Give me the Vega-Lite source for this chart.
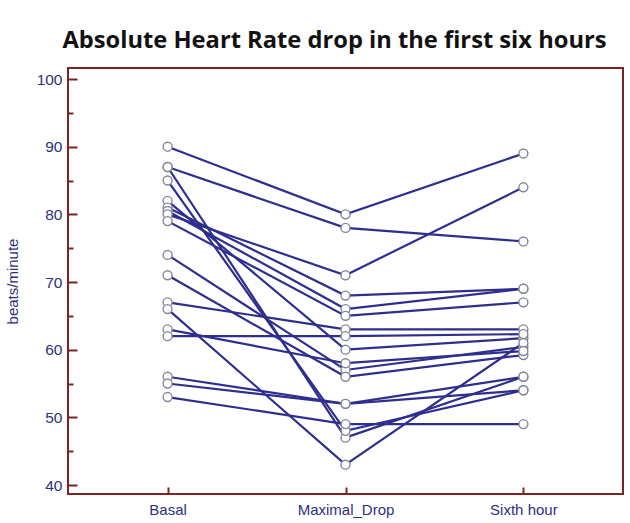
{
  "$schema": "https://vega.github.io/schema/vega-lite/v6.json",
  "autosize": {"type": "none"},
  "width": 555,
  "height": 426,
  "padding": {"left": 68, "top": 68, "right": 7, "bottom": 29},
  "background": "white",
  "title": {
    "text": "Absolute Heart Rate drop in the first six hours",
    "font": "Open Sans",
    "fontWeight": "bold",
    "fontSize": 23.7,
    "color": "#111111",
    "anchor": "middle",
    "dx": -11,
    "offset": 15
  },
  "config": {
    "view": {"stroke": "#7a2522", "strokeWidth": 2},
    "axis": {
      "labelFont": "Liberation Sans",
      "titleFont": "Liberation Sans",
      "labelColor": "#2f2f80",
      "titleColor": "#2f2f80",
      "tickColor": "#7a2522",
      "tickWidth": 2,
      "domain": false,
      "grid": false
    }
  },
  "data": {
    "values": [
      {"id": 1, "time": "Basal", "hr": 90}, {"id": 1, "time": "Maximal_Drop", "hr": 80}, {"id": 1, "time": "Sixth hour", "hr": 89},
      {"id": 2, "time": "Basal", "hr": 87}, {"id": 2, "time": "Maximal_Drop", "hr": 78}, {"id": 2, "time": "Sixth hour", "hr": 76},
      {"id": 3, "time": "Basal", "hr": 87}, {"id": 3, "time": "Maximal_Drop", "hr": 47}, {"id": 3, "time": "Sixth hour", "hr": 56},
      {"id": 4, "time": "Basal", "hr": 85}, {"id": 4, "time": "Maximal_Drop", "hr": 48}, {"id": 4, "time": "Sixth hour", "hr": 54},
      {"id": 5, "time": "Basal", "hr": 82}, {"id": 5, "time": "Maximal_Drop", "hr": 60}, {"id": 5, "time": "Sixth hour", "hr": 61.7},
      {"id": 6, "time": "Basal", "hr": 81}, {"id": 6, "time": "Maximal_Drop", "hr": 68}, {"id": 6, "time": "Sixth hour", "hr": 69},
      {"id": 7, "time": "Basal", "hr": 80.5}, {"id": 7, "time": "Maximal_Drop", "hr": 66}, {"id": 7, "time": "Sixth hour", "hr": 69},
      {"id": 8, "time": "Basal", "hr": 80}, {"id": 8, "time": "Maximal_Drop", "hr": 71}, {"id": 8, "time": "Sixth hour", "hr": 84},
      {"id": 9, "time": "Basal", "hr": 79}, {"id": 9, "time": "Maximal_Drop", "hr": 65}, {"id": 9, "time": "Sixth hour", "hr": 67},
      {"id": 10, "time": "Basal", "hr": 74}, {"id": 10, "time": "Maximal_Drop", "hr": 57}, {"id": 10, "time": "Sixth hour", "hr": 60.4},
      {"id": 11, "time": "Basal", "hr": 71}, {"id": 11, "time": "Maximal_Drop", "hr": 56}, {"id": 11, "time": "Sixth hour", "hr": 59.2},
      {"id": 12, "time": "Basal", "hr": 67}, {"id": 12, "time": "Maximal_Drop", "hr": 63}, {"id": 12, "time": "Sixth hour", "hr": 63},
      {"id": 13, "time": "Basal", "hr": 66}, {"id": 13, "time": "Maximal_Drop", "hr": 43}, {"id": 13, "time": "Sixth hour", "hr": 61},
      {"id": 14, "time": "Basal", "hr": 63}, {"id": 14, "time": "Maximal_Drop", "hr": 58}, {"id": 14, "time": "Sixth hour", "hr": 59.8},
      {"id": 15, "time": "Basal", "hr": 62}, {"id": 15, "time": "Maximal_Drop", "hr": 62}, {"id": 15, "time": "Sixth hour", "hr": 62.3},
      {"id": 16, "time": "Basal", "hr": 56}, {"id": 16, "time": "Maximal_Drop", "hr": 52}, {"id": 16, "time": "Sixth hour", "hr": 56},
      {"id": 17, "time": "Basal", "hr": 55}, {"id": 17, "time": "Maximal_Drop", "hr": 52}, {"id": 17, "time": "Sixth hour", "hr": 54},
      {"id": 18, "time": "Basal", "hr": 53}, {"id": 18, "time": "Maximal_Drop", "hr": 49}, {"id": 18, "time": "Sixth hour", "hr": 49}
    ]
  },
  "encoding": {
    "x": {
      "field": "time",
      "type": "nominal",
      "sort": ["Basal", "Maximal_Drop", "Sixth hour"],
      "scale": {"type": "point", "padding": 0.56},
      "axis": {
        "title": null,
        "labelAngle": 0,
        "labelFontSize": 15,
        "tickSize": -7,
        "labelPadding": 15
      }
    },
    "y": {
      "field": "hr",
      "type": "quantitative",
      "scale": {"domain": [38.67, 101.63], "nice": false, "zero": false},
      "axis": {
        "title": "beats/minute",
        "titleFontSize": 15,
        "titleFontWeight": "normal",
        "titlePadding": 16,
        "values": [40, 45, 50, 55, 60, 65, 70, 75, 80, 85, 90, 95, 100],
        "labelExpr": "datum.value % 10 === 0 ? datum.label : ''",
        "labelFontSize": 15.5,
        "labelPadding": 15,
        "tickSize": {"condition": {"test": "datum.value % 10 === 0", "value": -9}, "value": -5}
      }
    }
  },
  "layer": [
    {
      "mark": {"type": "line", "color": "#2e2e8f", "strokeWidth": 2.2},
      "encoding": {"detail": {"field": "id", "type": "nominal"}}
    },
    {
      "mark": {"type": "point", "shape": "circle", "filled": true, "fill": "white", "stroke": "#85859a", "strokeWidth": 1.4, "size": 80, "opacity": 1}
    }
  ]
}
